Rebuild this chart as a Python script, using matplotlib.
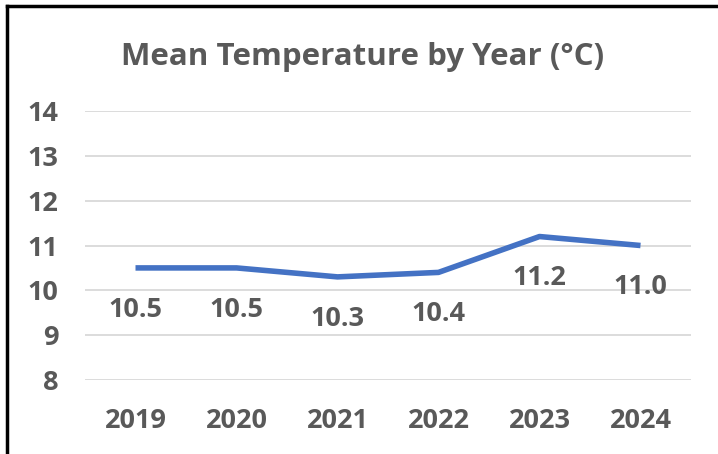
import matplotlib.pyplot as plt
from matplotlib.lines import Line2D

years = ["2019", "2020", "2021", "2022", "2023", "2024"]
temps = [10.5, 10.5, 10.3, 10.4, 11.2, 11.0]
y_ticks = [8, 9, 10, 11, 12, 13, 14]

grey = "#595959"
plt.rcParams['font.family'] = ['Open Sans', 'DejaVu Sans']

fig = plt.figure(figsize=(7.18, 4.54), dpi=100)
ax = fig.add_axes([85 / 718, 1 - 380 / 454, 606 / 718, 269 / 454])

x = list(range(len(years)))
ax.plot(x, temps, color="#4472C4", lw=4, solid_capstyle="butt", solid_joinstyle="round", zorder=3)

# value labels sit below each point
for xi, t in zip(x, temps):
    ax.annotate(f"{t:.1f}", (xi, t), xytext=(0, -30), textcoords="offset points",
                ha="center", va="center", fontsize=19.5, fontweight="bold", color=grey)

ax.set_xlim(-0.5, len(years) - 0.5)
ax.set_ylim(8, 14)
ax.set_yticks(y_ticks)
ax.set_yticklabels([str(v) for v in y_ticks])
ax.set_xticks(x)
ax.set_xticklabels(years)
ax.tick_params(length=0, labelsize=19.5, labelcolor=grey)
for lab in ax.get_xticklabels() + ax.get_yticklabels():
    lab.set_fontweight("bold")
ax.tick_params(axis="x", pad=20)
ax.tick_params(axis="y", pad=19)
ax.grid(axis="y", color="#D9D9D9", lw=1.3)
ax.set_axisbelow(True)
for s in ax.spines.values():
    s.set_visible(False)

fig.text(363 / 718, 1 - 57 / 454, "Mean Temperature by Year (°C)", ha="center", va="center",
         fontsize=22.5, fontweight="bold", color=grey)

# frame edges at top and left
fig.add_artist(Line2D([7 / 718, 1], [1 - 6 / 454, 1 - 6 / 454], color="black", lw=2.5, transform=fig.transFigure))
fig.add_artist(Line2D([7 / 718, 7 / 718], [0, 1 - 6 / 454], color="black", lw=2.5, transform=fig.transFigure))

fig.savefig("out.png", dpi=100)
